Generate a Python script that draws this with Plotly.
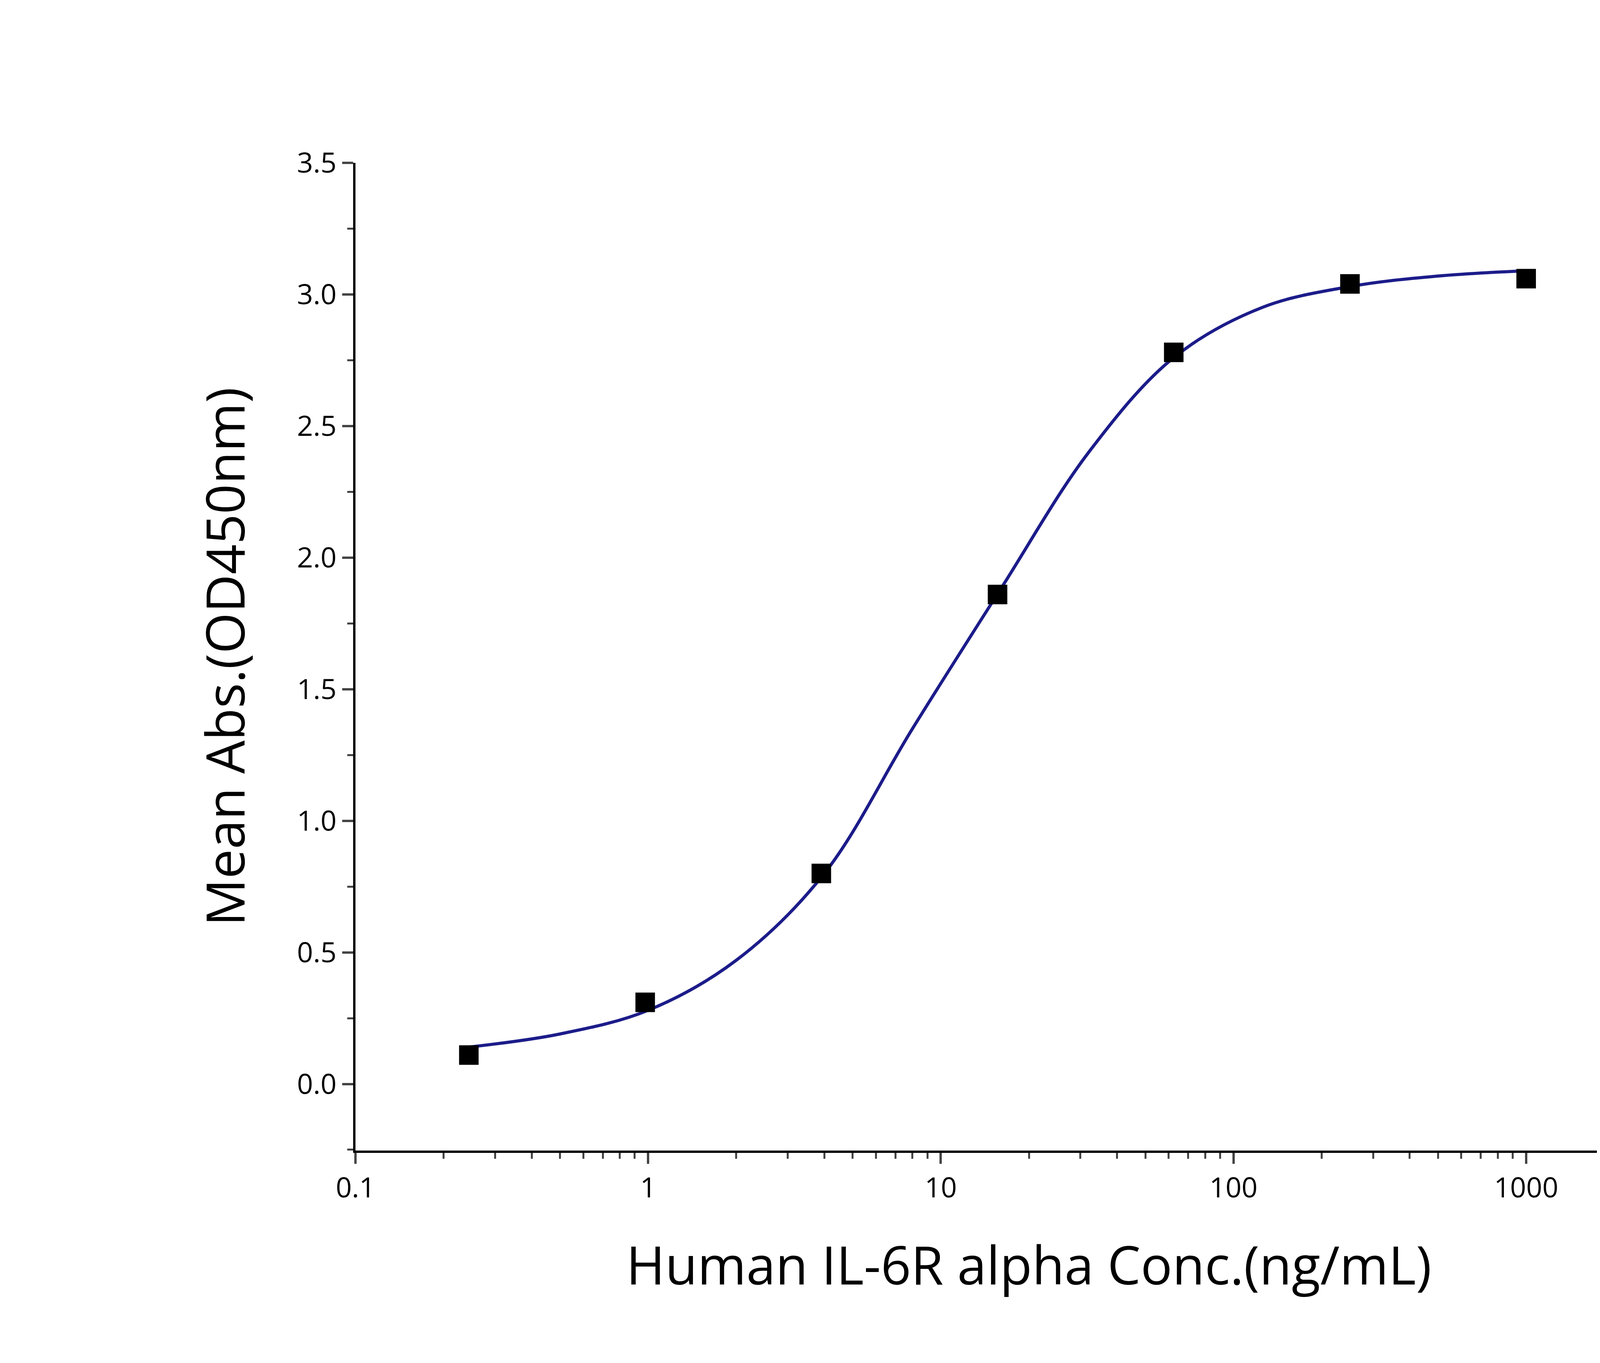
import plotly.graph_objects as go

conc = [0.244, 0.977, 3.906, 15.625, 62.5, 250, 1000]
absorb = [0.11, 0.31, 0.80, 1.86, 2.78, 3.04, 3.06]
fit_x = [0.244, 0.5, 1, 2, 4, 8, 16, 32, 62.5, 125, 250, 500, 1000]
fit_y = [0.14, 0.19, 0.28, 0.47, 0.80, 1.35, 1.88, 2.40, 2.76, 2.95, 3.03, 3.07, 3.09]
xticks = [0.1, 1, 10, 100, 1000]
xtick_text = ["0.1", "1", "10", "100", "1000"]
x_minor = [m * d for d in [0.1, 1, 10, 100, 1000] for m in range(2, 10) if m * d <= 4000]
yticks = [0.0, 0.5, 1.0, 1.5, 2.0, 2.5, 3.0, 3.5]

fig = go.Figure()
fig.add_trace(go.Scatter(x=fit_x, y=fit_y, mode="lines",
                         line=dict(color="#1c1c8a", width=8, shape="spline", smoothing=1.0)))
fig.add_trace(go.Scatter(x=conc, y=absorb, mode="markers",
                         marker=dict(symbol="square", size=50, color="black")))

font = "Open Sans, Lato, sans-serif"
fig.update_layout(
    width=5000, height=3490, autosize=False, showlegend=False,
    paper_bgcolor="white", plot_bgcolor="white",
    margin=dict(l=902, r=650, t=409, b=552),
    font=dict(family=font, color="black"),
)
fig.update_xaxes(type="log", range=[-1, 3.602], tickvals=xticks, ticktext=xtick_text,
                 ticks="outside", ticklen=28, tickwidth=6, showline=True, linewidth=6,
                 linecolor="black", showgrid=False, zeroline=False,
                 tickfont=dict(size=72, family=font),
                 minor=dict(tickvals=x_minor, ticks="outside", ticklen=15, tickwidth=5, showgrid=False),
                 title=dict(text="Human IL-6R alpha Conc.(ng/mL)", font=dict(size=135, family=font), standoff=110))
fig.update_yaxes(range=[-0.253, 3.5], tickvals=yticks, tickformat=".1f",
                 ticks="outside", ticklen=28, tickwidth=6, showline=True, linewidth=6,
                 linecolor="black", showgrid=False, zeroline=False,
                 tickfont=dict(size=72, family=font),
                 minor=dict(dtick=0.25, ticks="outside", ticklen=15, tickwidth=5, showgrid=False),
                 title=dict(text="Mean Abs.(OD450nm)", font=dict(size=135, family=font), standoff=90))
fig.write_html("out.html")
